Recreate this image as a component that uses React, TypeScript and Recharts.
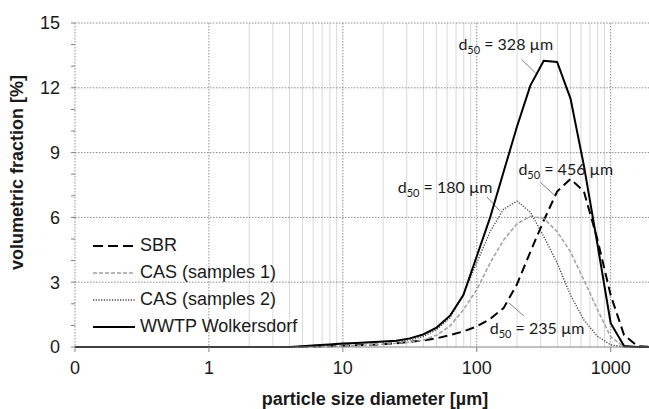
import { LineChart, Line, XAxis, YAxis, CartesianGrid, ReferenceLine, ReferenceDot, Legend, Label } from 'recharts'

// particle diameters [µm] where the distributions were sampled
const sizes = [
  0.1, 1, 4, 5, 6.3, 7.9, 10, 12.6, 15.8, 20, 25.1, 31.6, 39.8, 50.1, 63.1, 79.4, 100, 125.9, 158.5, 199.5, 251.2,
  316.2, 398.1, 501.2, 631, 794.3, 1000, 1258.9, 1584.9, 2000,
]

// volumetric fraction [%]
const sbr = [
  0, 0, 0, 0.01, 0.02, 0.04, 0.06, 0.08, 0.1, 0.13, 0.17, 0.24, 0.3, 0.4, 0.55, 0.72, 0.95, 1.3, 1.8, 2.9, 4.4, 5.85,
  7.2, 7.78, 7.2, 5.0, 2.4, 0.55, 0.04, 0,
]
const cas1 = [
  0, 0, 0, 0.01, 0.02, 0.03, 0.05, 0.07, 0.1, 0.13, 0.17, 0.22, 0.32, 0.55, 0.97, 1.72, 2.65, 3.9, 4.95, 5.7, 6.05,
  5.95, 5.35, 4.4, 3.1, 1.75, 0.47, 0, 0, 0,
]
const cas2 = [
  0, 0, 0, 0.03, 0.06, 0.1, 0.13, 0.17, 0.2, 0.23, 0.27, 0.33, 0.48, 0.8, 1.35, 2.4, 3.9, 5.35, 6.38, 6.75, 6.25,
  5.12, 3.9, 2.4, 1.25, 0.5, 0.1, 0, 0, 0,
]
const wwtp = [
  0, 0, 0, 0.04, 0.08, 0.12, 0.16, 0.19, 0.22, 0.25, 0.29, 0.4, 0.58, 0.9, 1.45, 2.4, 4.2, 6.0, 8.1, 10.2, 12.1,
  13.25, 13.2, 11.5, 8.4, 4.8, 1.1, 0.05, 0, 0,
]

const xTicks = [0.1, 1, 10, 100, 1000]
const yTicks = [0, 1, 2, 3, 4, 5, 6, 7, 8, 9, 10, 11, 12, 13, 14, 15]
const gridY = [3, 6, 9, 12, 15]
const minorX = [
  2, 3, 4, 5, 6, 7, 8, 9, 20, 30, 40, 50, 60, 70, 80, 90, 200, 300, 400, 500, 600, 700, 800, 900, 2000,
]

// d50 annotations: label anchor and leader line, in data units
const d50Labels = ['328', '180', '456', '235']
const d50Text = [
  [72.9, 13.74],
  [25.7, 7.14],
  [204.6, 7.97],
  [125, 0.6],
]
const d50Leader = [
  [216.7, 13.31, 274, 12.69],
  [119, 6.95, 148.6, 6.3],
  [298.5, 7.62, 386, 7.0],
  [173.4, 2.05, 224.5, 1.44],
]

const series = [
  { key: 'sbr', name: 'SBR', values: sbr, color: '#000000', width: 2, dash: '9 5', legendDash: '10 5' },
  { key: 'cas1', name: 'CAS (samples 1)', values: cas1, color: '#a0a0a0', width: 1.5, dash: '4 2', legendDash: '4 2' },
  { key: 'cas2', name: 'CAS (samples 2)', values: cas2, color: '#404040', width: 1.3, dash: '1.2 1.5', legendDash: '1.2 1.5' },
  { key: 'wwtp', name: 'WWTP Wolkersdorf', values: wwtp, color: '#000000', width: 2, dash: undefined, legendDash: undefined },
]

const data = sizes.map((d, i) => {
  const row: Record<string, number> = { d }
  series.forEach((s) => (row[s.key] = s.values[i]))
  return row
})

const font = '"Liberation Sans", Arial, sans-serif'
const noteFont = 'Lato, "Liberation Sans", sans-serif'

function LegendBox() {
  return (
    <div style={{ fontFamily: font, fontSize: 18, color: '#1a1a1a' }}>
      {series.map((s) => (
        <div key={s.key} style={{ display: 'flex', alignItems: 'center', height: 27 }}>
          <svg width={42} height={10} style={{ marginRight: 5 }}>
            <line x1={0} y1={5} x2={42} y2={5} stroke={s.color} strokeWidth={s.width} strokeDasharray={s.legendDash} />
          </svg>
          <span>{s.name}</span>
        </div>
      ))}
    </div>
  )
}

function d50Shape(label: string) {
  return (p: any) => (
    <text x={p.cx} y={p.cy} fontFamily={noteFont} fontSize={16} fill="#1a1a1a">
      d
      <tspan dy={4} fontSize={11}>
        50
      </tspan>
      <tspan dy={-4}>{` = ${label} µm`}</tspan>
    </text>
  )
}

export default function App() {
  return (
    <div style={{ position: 'absolute', left: 0, top: 0, width: 649, height: 409, overflow: 'hidden', background: '#fff' }}>
      <LineChart width={652} height={409} data={data} margin={{ top: 23, right: 1, bottom: 32, left: 0 }}>
        <CartesianGrid verticalValues={minorX} horizontal={false} stroke="#d9d9d9" strokeWidth={1} />
        <CartesianGrid
          verticalValues={xTicks}
          horizontalValues={gridY}
          stroke="#8c8c8c"
          strokeDasharray="1.5 1.5"
          strokeWidth={1}
        />
        <XAxis
          dataKey="d"
          type="number"
          scale="log"
          domain={[0.1, 2000]}
          ticks={xTicks}
          interval={0}
          allowDataOverflow
          height={30}
          tickSize={5}
          tickMargin={9}
          stroke="#808080"
          tick={{ fontSize: 18, fill: '#1a1a1a', fontFamily: font }}
          tickFormatter={(v: number) => (v === 0.1 ? '0' : String(v))}
        >
          <Label
            content={({ viewBox }: any) => (
              <text
                x={(viewBox?.x ?? 75) + (viewBox?.width ?? 576) / 2 + 12}
                y={(viewBox?.y ?? 347) + 58}
                textAnchor="middle"
                fontFamily={font}
                fontSize={18}
                fontWeight="bold"
                fill="#1a1a1a"
              >
                particle size diameter [µm]
              </text>
            )}
          />
        </XAxis>
        <YAxis
          type="number"
          domain={[0, 15]}
          ticks={yTicks}
          interval={0}
          width={75}
          axisLine={false}
          tickSize={4}
          tickMargin={11}
          tickLine={{ stroke: '#808080' }}
          tick={{ fontSize: 18, fill: '#1a1a1a', fontFamily: font }}
          tickFormatter={(v: number) => (v % 3 === 0 ? String(v) : '')}
        >
          <Label
            content={({ viewBox }: any) => (
              <text
                x={17}
                y={(viewBox?.y ?? 23) + 149.5}
                transform={`rotate(-90 17 ${(viewBox?.y ?? 23) + 149.5})`}
                textAnchor="middle"
                dominantBaseline="central"
                fontFamily={font}
                fontSize={18}
                fontWeight="bold"
                fill="#1a1a1a"
              >
                volumetric fraction [%]
              </text>
            )}
          />
        </YAxis>
        <Legend
          layout="horizontal"
          verticalAlign="middle"
          align="center"
          wrapperStyle={{ left: 93, top: 232, width: 'auto' }}
          content={() => <LegendBox />}
        />
        {d50Leader.map((l, i) => (
          <ReferenceLine
            key={'lead' + i}
            segment={[
              { x: l[0], y: l[1] },
              { x: l[2], y: l[3] },
            ]}
            stroke="#808080"
            strokeWidth={1}
          />
        ))}
        {series.map((s) => (
          <Line
            key={s.key}
            type="linear"
            dataKey={s.key}
            name={s.name}
            stroke={s.color}
            strokeWidth={s.width}
            strokeDasharray={s.dash}
            dot={false}
            activeDot={false}
            isAnimationActive={false}
          />
        ))}
        {d50Labels.map((lab, i) => (
          <ReferenceDot key={'d50' + i} x={d50Text[i][0]} y={d50Text[i][1]} r={0} shape={d50Shape(lab)} />
        ))}
      </LineChart>
    </div>
  )
}
